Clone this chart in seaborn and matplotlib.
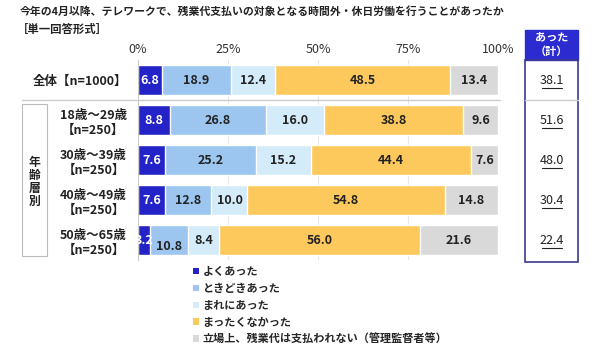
import matplotlib
matplotlib.use("Agg")
import matplotlib.pyplot as plt
import matplotlib.transforms as mtransforms
from matplotlib.patches import Rectangle, Patch
from matplotlib.lines import Line2D
import numpy as np
import pandas as pd
import seaborn as sns

categories = ["全体【n=1000】", "18歳～29歳\n【n=250】", "30歳～39歳\n【n=250】",
              "40歳～49歳\n【n=250】", "50歳～65歳\n【n=250】"]
series_names = ["よくあった", "ときどきあった", "まれにあった", "まったくなかった",
                "立場上、残業代は支払われない（管理監督者等）"]
often = [6.8, 8.8, 7.6, 7.6, 3.2]
sometimes = [18.9, 26.8, 25.2, 12.8, 10.8]
rarely = [12.4, 16.0, 15.2, 10.0, 8.4]
never = [48.5, 38.8, 44.4, 54.8, 56.0]
not_paid = [13.4, 9.6, 7.6, 14.8, 21.6]
total_yes = [38.1, 51.6, 48.0, 30.4, 22.4]
xticks = [0, 25, 50, 75, 100]
xtick_labels = ["0%", "25%", "50%", "75%", "100%"]

colors = ["#2323c8", "#9cc6ef", "#d4ebfa", "#fdc95c", "#d9d9d9"]
text_colors = ["white", "#222222", "#222222", "#222222", "#222222"]

sns.set_theme(style="white")
plt.rcParams['font.family'] = ['Noto Sans CJK JP', 'DejaVu Sans']

W, H = 600, 355
fig = plt.figure(figsize=(6, 3.55), dpi=100)
ax_left, ax_right = 138 / W, 498 / W
ax_top, ax_bot = 60 / H, 260 / H
ax = fig.add_axes([ax_left, 1 - ax_bot, ax_right - ax_left, ax_bot - ax_top])

series = [often, sometimes, rarely, never, not_paid]
df = pd.DataFrame({name: vals for name, vals in zip(series_names, series)})
df["cat"] = categories
cum = df[series_names].cumsum(axis=1)

# grid lines behind
for t in xticks[1:-1]:
    ax.axvline(t, color="#e6e6e6", lw=0.8, zorder=0)

for i in range(len(series_names) - 1, -1, -1):
    sns.barplot(x=cum[series_names[i]], y=df["cat"], orient="h", color=colors[i],
                width=0.75, ax=ax, saturation=1, zorder=2)

# labels in segments
for r in range(len(categories)):
    left = 0
    for i, name in enumerate(series_names):
        v = df.loc[r, name]
        yoff = 0
        if i == 1 and series[0][r] < 5:
            yoff = 0.17
        ax.text(left + v / 2, r + yoff, f"{v:.1f}", ha="center", va="center",
                fontsize=9, fontweight="bold", color=text_colors[i], zorder=5)
        left += v

ax.set_xlim(0, 100)
ax.set_ylim(len(categories) - 0.5, -0.5)
ax.xaxis.tick_top()
ax.set_xticks(xticks)
ax.set_xticklabels(xtick_labels, fontsize=9, color="#333333")
ax.tick_params(axis="x", length=0, pad=3)
ax.tick_params(axis="y", length=0, pad=8)
for lab in ax.get_yticklabels():
    lab.set_fontsize(9)
    lab.set_fontweight("bold")
    lab.set_color("#222222")
    lab.set_multialignment("center")
ax.set_xlabel("")
ax.set_ylabel("")
for s in ["top", "right", "bottom"]:
    ax.spines[s].set_visible(False)
ax.spines["left"].set_color("#cccccc")
ax.spines["left"].set_linewidth(0.8)

# separator line between 全体 and age groups
blend = mtransforms.blended_transform_factory(fig.transFigure, ax.transData)
fig.add_artist(Line2D([22 / W, 500 / W], [0.5, 0.5], transform=blend,
                      color="#cccccc", lw=1))

# left bracket for 年齢層別
fig.add_artist(Rectangle((22 / W, 1 - 256 / H), 25 / W, (256 - 104) / H,
                         transform=fig.transFigure, fill=False,
                         edgecolor="#bbbbbb", lw=0.8))
fig.text(34.5 / W, 1 - 182 / H, "年\n齢\n層\n別", ha="center", va="center",
         fontsize=8.5, fontweight="bold", color="#222222", linespacing=1.0)

# right column box
bx0, bx1 = 525 / W, 578 / W
fig.add_artist(Rectangle((bx0, 1 - 60 / H), bx1 - bx0, 30 / H,
                         transform=fig.transFigure, facecolor="#2b2bd0",
                         edgecolor="#2b2bd0", lw=1))
fig.text((bx0 + bx1) / 2, 1 - 44 / H, "あった\n（計）", ha="center", va="center",
         fontsize=8, fontweight="bold", color="white", linespacing=1.1)
fig.add_artist(Rectangle((bx0, 1 - 262 / H), bx1 - bx0, (262 - 60) / H,
                         transform=fig.transFigure, fill=False,
                         edgecolor="#3a3a90", lw=1.2))
fig.add_artist(Line2D([bx0, bx1], [0.5, 0.5], transform=blend,
                      color="#cccccc", lw=1))
cx = (bx0 + bx1) / 2
for r, v in enumerate(total_yes):
    fig.text(cx, r, f"{v:.1f}", transform=blend, ha="center", va="center",
             fontsize=9, color="#222222")
    fig.add_artist(Line2D([cx - 10 / W, cx + 10 / W], [r + 0.2, r + 0.2],
                          transform=blend, color="#222222", lw=0.8))

# title
fig.text(20 / W, 1 - 12 / H,
         "今年の4月以降、テレワークで、残業代支払いの対象となる時間外・休日労働を行うことがあったか",
         ha="left", va="center", fontsize=7.8, fontweight="bold", color="#222222")
fig.text(17 / W, 1 - 29 / H, "［単一回答形式］", ha="left", va="center",
         fontsize=8.2, fontweight="bold", color="#222222")

# legend
handles = [Patch(facecolor=c, edgecolor="none") for c in colors]
fig.legend(handles, series_names, loc="upper left",
           bbox_to_anchor=(193 / W, 1 - 265 / H), frameon=False,
           handlelength=0.55, handleheight=0.55, handletextpad=0.3,
           labelspacing=0.35, borderaxespad=0, borderpad=0,
           prop={"size": 8, "weight": "bold"})

fig.savefig("out.png", dpi=100)
